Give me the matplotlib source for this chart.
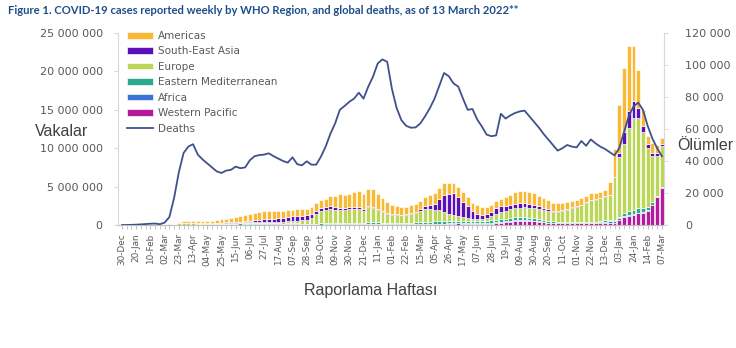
import numpy as np
import matplotlib.pyplot as plt
from matplotlib.ticker import FuncFormatter

# weekly cases per WHO region (millions), week 0 = 30-Dec-2019 ... week 114 = 07-Mar-2022
americas = [
    0, 0, 0, 0, 0, 0, 0, 0, 0, 0.002,
    0.01, 0.05, 0.14, 0.22, 0.25, 0.24, 0.24, 0.25, 0.26, 0.29,
    0.35, 0.42, 0.47, 0.52, 0.58, 0.70, 0.80, 0.90, 1.00, 1.05,
    1.05, 1.00, 1.00, 0.95, 0.90, 0.90, 0.85, 0.85, 0.85, 0.85,
    0.90, 0.95, 1.10, 1.15, 1.30, 1.50, 1.70, 1.75, 1.80, 1.95,
    2.10, 2.00, 2.20, 2.30, 2.00, 1.70, 1.40, 1.20, 1.10, 1.00,
    0.95, 1.00, 1.00, 1.10, 1.20, 1.30, 1.40, 1.45, 1.50, 1.35,
    1.30, 1.30, 1.25, 1.20, 1.10, 1.10, 1.00, 0.95, 0.90, 0.95,
    1.00, 1.20, 1.35, 1.50, 1.55, 1.60, 1.55, 1.50, 1.40, 1.30,
    1.20, 1.00, 0.95, 0.90, 0.85, 0.80, 0.80, 0.80, 0.80, 0.80,
    0.75, 0.80, 0.80, 1.70, 3.60, 6.30, 8.40, 8.40, 7.20, 4.90,
    2.10, 1.00, 1.20, 0.95, 0.70]
south_east_asia = [
    0, 0, 0, 0, 0, 0, 0, 0, 0, 0,
    0, 0.001, 0.002, 0.005, 0.01, 0.015, 0.02, 0.025, 0.03, 0.04,
    0.05, 0.06, 0.07, 0.09, 0.10, 0.12, 0.15, 0.18, 0.22, 0.28,
    0.33, 0.38, 0.42, 0.45, 0.50, 0.55, 0.62, 0.66, 0.62, 0.58,
    0.55, 0.48, 0.42, 0.36, 0.33, 0.32, 0.30, 0.30, 0.28, 0.25,
    0.22, 0.20, 0.18, 0.17, 0.16, 0.15, 0.14, 0.12, 0.10, 0.10,
    0.11, 0.12, 0.15, 0.20, 0.35, 0.55, 0.80, 1.40, 2.20, 2.60,
    2.80, 2.50, 2.00, 1.50, 1.00, 0.70, 0.50, 0.50, 0.55, 0.75,
    0.75, 0.65, 0.60, 0.60, 0.55, 0.50, 0.50, 0.45, 0.35, 0.30,
    0.25, 0.20, 0.18, 0.15, 0.12, 0.10, 0.10, 0.09, 0.08, 0.08,
    0.07, 0.07, 0.07, 0.07, 0.10, 0.45, 1.60, 2.20, 2.20, 1.40,
    0.80, 0.60, 0.50, 0.40, 0.30]
europe = [
    0, 0, 0, 0, 0, 0, 0, 0, 0.001, 0.01,
    0.04, 0.12, 0.22, 0.26, 0.24, 0.23, 0.20, 0.18, 0.17, 0.16,
    0.14, 0.13, 0.13, 0.13, 0.13, 0.13, 0.14, 0.14, 0.15, 0.15,
    0.16, 0.17, 0.19, 0.22, 0.24, 0.27, 0.31, 0.35, 0.40, 0.50,
    0.70, 1.20, 1.55, 1.70, 1.85, 1.70, 1.65, 1.60, 1.70, 1.75,
    1.80, 1.55, 2.00, 1.85, 1.60, 1.40, 1.20, 1.10, 1.05, 1.00,
    1.05, 1.15, 1.25, 1.45, 1.65, 1.60, 1.50, 1.45, 1.20, 0.95,
    0.80, 0.70, 0.55, 0.45, 0.35, 0.30, 0.35, 0.40, 0.55, 0.75,
    0.95, 1.00, 1.10, 1.20, 1.25, 1.30, 1.30, 1.30, 1.30, 1.25,
    1.30, 1.20, 1.25, 1.40, 1.60, 1.80, 1.95, 2.20, 2.55, 2.85,
    2.90, 3.00, 3.10, 3.20, 5.50, 7.80, 9.00, 10.90, 11.90, 11.70,
    9.80, 7.70, 6.00, 5.20, 5.30]
eastern_med = [
    0, 0, 0, 0, 0, 0, 0, 0, 0.001, 0.005,
    0.01, 0.012, 0.02, 0.03, 0.03, 0.04, 0.05, 0.05, 0.06, 0.07,
    0.08, 0.10, 0.11, 0.13, 0.14, 0.14, 0.13, 0.13, 0.12, 0.12,
    0.12, 0.11, 0.11, 0.11, 0.11, 0.12, 0.13, 0.13, 0.13, 0.13,
    0.13, 0.13, 0.15, 0.17, 0.20, 0.22, 0.22, 0.20, 0.20, 0.18,
    0.16, 0.15, 0.15, 0.15, 0.15, 0.13, 0.13, 0.13, 0.15, 0.17,
    0.20, 0.22, 0.24, 0.27, 0.30, 0.33, 0.35, 0.36, 0.35, 0.33,
    0.30, 0.27, 0.25, 0.25, 0.24, 0.24, 0.24, 0.25, 0.27, 0.30,
    0.32, 0.35, 0.37, 0.38, 0.37, 0.35, 0.33, 0.31, 0.28, 0.26,
    0.24, 0.22, 0.20, 0.18, 0.17, 0.16, 0.15, 0.15, 0.15, 0.15,
    0.15, 0.14, 0.14, 0.14, 0.15, 0.20, 0.35, 0.45, 0.60, 0.60,
    0.60, 0.40, 0.30, 0.20, 0.15]
africa = [
    0, 0, 0, 0, 0, 0, 0, 0, 0, 0,
    0.001, 0.002, 0.003, 0.005, 0.006, 0.008, 0.01, 0.012, 0.015, 0.02,
    0.022, 0.027, 0.03, 0.038, 0.045, 0.055, 0.07, 0.08, 0.09, 0.10,
    0.10, 0.09, 0.08, 0.07, 0.06, 0.055, 0.05, 0.045, 0.04, 0.035,
    0.035, 0.035, 0.035, 0.035, 0.04, 0.04, 0.045, 0.05, 0.05, 0.06,
    0.07, 0.08, 0.09, 0.10, 0.09, 0.08, 0.07, 0.06, 0.05, 0.045,
    0.04, 0.04, 0.04, 0.04, 0.04, 0.04, 0.04, 0.04, 0.04, 0.04,
    0.04, 0.04, 0.045, 0.05, 0.06, 0.075, 0.09, 0.12, 0.14, 0.16,
    0.15, 0.14, 0.12, 0.11, 0.10, 0.09, 0.08, 0.075, 0.065, 0.055,
    0.045, 0.04, 0.03, 0.03, 0.025, 0.02, 0.02, 0.02, 0.02, 0.03,
    0.07, 0.15, 0.25, 0.30, 0.25, 0.20, 0.15, 0.12, 0.10, 0.08,
    0.06, 0.05, 0.04, 0.03, 0.03]
western_pacific = [
    0, 0, 0.0003, 0.003, 0.012, 0.025, 0.02, 0.012, 0.005, 0.005,
    0.005, 0.007, 0.01, 0.012, 0.015, 0.012, 0.01, 0.006, 0.005, 0.005,
    0.004, 0.005, 0.005, 0.006, 0.007, 0.008, 0.01, 0.012, 0.017, 0.022,
    0.027, 0.03, 0.03, 0.027, 0.025, 0.024, 0.023, 0.022, 0.022, 0.022,
    0.025, 0.028, 0.03, 0.035, 0.04, 0.05, 0.06, 0.065, 0.07, 0.075,
    0.08, 0.085, 0.09, 0.095, 0.09, 0.075, 0.06, 0.05, 0.045, 0.045,
    0.05, 0.05, 0.055, 0.06, 0.07, 0.08, 0.10, 0.12, 0.14, 0.16,
    0.18, 0.20, 0.19, 0.17, 0.16, 0.15, 0.15, 0.16, 0.18, 0.22,
    0.28, 0.35, 0.43, 0.50, 0.55, 0.57, 0.55, 0.50, 0.42, 0.35,
    0.28, 0.22, 0.20, 0.20, 0.20, 0.20, 0.20, 0.20, 0.20, 0.20,
    0.20, 0.20, 0.20, 0.22, 0.30, 0.70, 1.00, 1.20, 1.30, 1.50,
    1.60, 1.85, 2.60, 3.60, 4.80]

# weekly global deaths (thousands)
deaths = [
    0.0, 0.0, 0.1, 0.2, 0.4, 0.6, 0.8, 0.9, 0.5, 1.5,
    5, 17, 33, 45, 49, 50.5, 44, 41, 38.5, 36,
    33.5, 32.5, 34, 34.5, 36.5, 35.5, 36, 40.5, 43, 43.7,
    44, 44.8, 43, 41.5, 40, 39, 42.3, 38, 37.3, 39.8,
    37.7, 37.7, 42.7, 49, 57, 63.5, 72, 74.4, 77, 79,
    82.7, 79, 86.5, 92.7, 101, 103.5, 102, 85, 73, 65.5,
    62, 60.8, 61, 63.5, 68, 73, 79, 87, 95, 93,
    88.5, 86.5, 79, 72, 72.5, 66, 61.5, 56.5, 55.5, 56,
    69.5, 66.5, 68.5, 70, 71, 71.5, 68, 64.5, 61, 57,
    53.5, 50, 46.5, 48, 50, 49, 48.5, 52.5, 49.5, 53.5,
    51, 49, 47.5, 45.5, 43.5, 48, 58, 68, 74, 76.5,
    72, 62, 54, 48, 43]

tick_labels = ["30-Dec", "20-Jan", "10-Feb", "02-Mar", "23-Mar", "13-Apr", "04-May", "25-May",
               "15-Jun", "06-Jul", "27-Jul", "17-Aug", "07-Sep", "28-Sep", "19-Oct", "09-Nov",
               "30-Nov", "21-Dec", "11-Jan", "01-Feb", "22-Feb", "15-Mar", "05-Apr", "26-Apr",
               "17-May", "07-Jun", "28-Jun", "19-Jul", "09-Aug", "30-Aug", "20-Sep", "11-Oct",
               "01-Nov", "22-Nov", "13-Dec", "03-Jan", "24-Jan", "14-Feb", "07-Mar"]

# stacking order bottom -> top
regions = [
    ("Western Pacific", western_pacific, "#b5199c"),
    ("Africa", africa, "#3b72d9"),
    ("Eastern Mediterranean", eastern_med, "#2baa8c"),
    ("Europe", europe, "#bcd65a"),
    ("South-East Asia", south_east_asia, "#5a0fb8"),
    ("Americas", americas, "#f9b935"),
]
legend_order = ["Americas", "South-East Asia", "Europe", "Eastern Mediterranean",
                "Africa", "Western Pacific"]

grey = "#595959"
weeks = np.arange(len(americas))

fig = plt.figure(figsize=(7.36, 3.48), dpi=100)
ax = fig.add_axes([118 / 736, 1 - 225 / 348, (664 - 118) / 736, (225 - 33) / 348])
ax2 = ax.twinx()

bottom = np.zeros(len(weeks))
handles = {}
for name, vals, col in regions:
    v = np.array(vals) * 1e6
    handles[name] = ax.bar(weeks, v, bottom=bottom, width=0.82, color=col,
                           edgecolor="white", linewidth=0.45)
    bottom += v

line, = ax2.plot(weeks, np.array(deaths) * 1000, color="#3f518c", lw=1.3)

# axes
ax.set_xlim(-0.85, 114.45)
ax.set_ylim(0, 25e6)
ax2.set_ylim(0, 120000)
ax.set_yticks(np.arange(0, 25e6 + 1, 5e6))
ax2.set_yticks(np.arange(0, 120001, 20000))
fmt = FuncFormatter(lambda v, p: f"{int(round(v)):,}".replace(",", " "))
ax.yaxis.set_major_formatter(fmt)
ax2.yaxis.set_major_formatter(fmt)

ax.set_xticks(weeks[::3])
ax.set_xticklabels(tick_labels, rotation=90, fontsize=6.4, color=grey)
ax.set_xticks(weeks, minor=True)
ax.tick_params(axis="x", which="both", length=3, color="#bfbfbf", pad=3)
ax.tick_params(axis="y", length=3, color="#d9d9d9", labelsize=8, labelcolor=grey, pad=8)
ax2.tick_params(axis="y", length=3, color="#d9d9d9", labelsize=8, labelcolor=grey, pad=12)

for s in ["top", "right"]:
    ax.spines[s].set_visible(False)
for s in ["top", "left", "bottom"]:
    ax2.spines[s].set_visible(False)
ax.spines["left"].set_color("#d9d9d9")
ax2.spines["right"].set_color("#d9d9d9")
ax.spines["bottom"].set_color("#bfbfbf")

leg_handles = [handles[n] for n in legend_order] + [line]
leg_labels = legend_order + ["Deaths"]
ax2.legend(leg_handles, leg_labels, loc="upper left",
           bbox_to_anchor=(127 / 736, 1 - 31 / 348), bbox_transform=fig.transFigure,
           frameon=False, fontsize=7.5, labelcolor=grey, handlelength=2.5,
           handleheight=0.6, handletextpad=0.5, labelspacing=0.52,
           borderpad=0, borderaxespad=0)

# texts
fig.text(8 / 736, 1 - 11 / 348,
         "Figure 1. COVID-19 cases reported weekly by WHO Region, and global deaths, as of 13 March 2022**",
         ha="left", va="center", fontsize=8.1, fontweight="bold", color="#1f4e8c",
         family=["Lato", "DejaVu Sans"])
fig.text(62 / 736, 1 - 132 / 348, "Vakalar", ha="center", va="center",
         fontsize=11.5, color="#404040", family="Liberation Sans")
fig.text(705 / 736, 1 - 146 / 348, "Ölümler", ha="center", va="center",
         fontsize=11.5, color="#404040", family="Liberation Sans")
fig.text(371 / 736, 1 - 290 / 348, "Raporlama Haftası", ha="center", va="center",
         fontsize=11.5, color="#404040", family="Liberation Sans")

fig.savefig("out.png", dpi=100, facecolor="white")
